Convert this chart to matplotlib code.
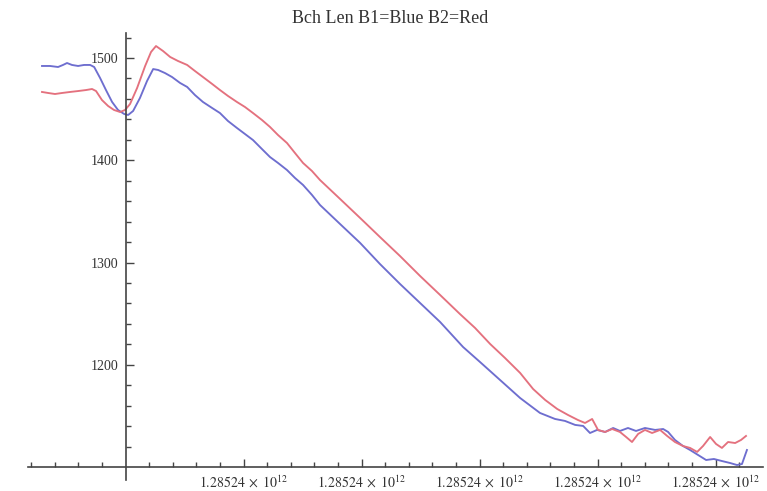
import matplotlib
matplotlib.use("Agg")
import matplotlib.pyplot as plt

plt.rcParams["font.family"] = ["Liberation Serif", "DejaVu Serif"]
plt.rcParams["mathtext.fontset"] = "stix"

# time offsets (arbitrary units, origin where the axes cross) and bunch length
blue_t = [-3.54, -3.20, -2.86, -2.65, -2.48, -2.27, -2.01, -1.76, -1.50, -1.33,
          -1.08, -0.83, -0.57, -0.32, -0.06, 0.11, 0.32, 0.61, 0.91, 1.17,
          1.38, 1.67, 1.97, 2.31, 2.61, 2.94, 3.28, 3.67, 4.00, 4.34,
          4.72, 5.06, 5.40, 5.78, 6.12, 6.46, 6.84, 7.18, 7.52, 7.90,
          8.24, 9.09, 9.94, 10.78, 11.63, 12.48, 13.33, 14.30, 15.02, 15.87,
          16.72, 17.56, 18.20, 18.62, 19.05, 19.39, 19.68, 19.98, 20.32, 20.66,
          20.95, 21.29, 21.63, 22.01, 22.44, 22.78, 22.99, 23.28, 23.62, 23.92,
          24.26, 24.60, 24.93, 25.27, 25.61, 25.91, 26.12, 26.33]
blue_v = [1492.2, 1492.2, 1491.2, 1493.2, 1495.1, 1493.2, 1492.2, 1493.2, 1493.2, 1491.2,
          1480.5, 1468.7, 1457.0, 1449.2, 1445.3, 1444.3, 1448.2, 1460.9, 1477.5, 1489.2,
          1488.3, 1485.3, 1481.4, 1475.6, 1471.7, 1463.8, 1457.0, 1451.1, 1446.2, 1438.4,
          1431.6, 1425.7, 1419.8, 1411.0, 1403.2, 1397.4, 1390.5, 1382.7, 1375.9, 1366.1,
          1356.3, 1337.7, 1319.2, 1298.6, 1279.1, 1260.5, 1241.9, 1217.5, 1202.8, 1185.2,
          1167.6, 1153.0, 1147.1, 1145.2, 1141.3, 1140.3, 1133.4, 1136.4, 1134.4, 1138.3,
          1135.4, 1138.3, 1135.4, 1138.3, 1136.4, 1137.3, 1134.4, 1126.6, 1120.7, 1116.8,
          1111.9, 1107.0, 1108.0, 1106.0, 1104.1, 1102.1, 1103.1, 1116.8]

red_t = [-3.54, -3.28, -2.99, -2.69, -2.35, -2.01, -1.67, -1.42, -1.25, -1.00,
         -0.74, -0.49, -0.23, -0.02, 0.19, 0.49, 0.83, 1.08, 1.29, 1.59,
         1.89, 2.22, 2.61, 2.94, 3.28, 3.67, 4.00, 4.34, 4.72, 5.06,
         5.40, 5.78, 6.12, 6.46, 6.84, 7.18, 7.52, 7.90, 8.24, 9.09,
         9.94, 10.78, 11.63, 12.48, 13.33, 14.17, 14.81, 15.45, 16.08, 16.72,
         17.27, 17.78, 18.29, 18.75, 19.17, 19.47, 19.77, 20.02, 20.32, 20.62,
         20.95, 21.21, 21.46, 21.72, 22.01, 22.31, 22.65, 22.95, 23.28, 23.62,
         23.92, 24.22, 24.47, 24.77, 25.02, 25.27, 25.53, 25.83, 26.08, 26.29]
red_v = [1466.8, 1465.8, 1464.8, 1465.8, 1466.8, 1467.7, 1468.7, 1469.7, 1467.7, 1458.9,
         1453.1, 1449.2, 1447.2, 1449.2, 1455.0, 1470.7, 1492.2, 1505.9, 1511.7, 1506.8,
         1501.0, 1497.1, 1493.2, 1487.3, 1481.4, 1474.6, 1468.7, 1462.9, 1457.0, 1452.1,
         1446.2, 1439.4, 1432.6, 1424.7, 1416.9, 1407.1, 1397.4, 1389.5, 1380.7, 1362.2,
         1343.6, 1325.0, 1306.4, 1286.9, 1268.3, 1249.7, 1236.1, 1220.4, 1206.7, 1192.1,
         1176.4, 1165.7, 1156.9, 1151.0, 1146.1, 1143.2, 1147.1, 1136.4, 1134.4, 1137.3,
         1134.4, 1129.5, 1124.6, 1132.5, 1136.4, 1133.4, 1136.4, 1130.5, 1124.6, 1120.7,
         1118.8, 1114.9, 1120.7, 1129.5, 1122.7, 1118.8, 1124.6, 1123.6, 1126.6, 1130.5]

x_major = [5, 10, 15, 20, 25]
x_labels = [r"$1.28524\;\times\;10^{12}$"] * len(x_major)
y_major = [1200, 1300, 1400, 1500]
title = "Bch Len B1=Blue B2=Red"

fig = plt.figure(figsize=(7.67, 4.91), dpi=100)
ax = fig.add_axes([0, 0, 1, 1])
ax.set_xlim(-5.32, 27.18)
ax.set_ylim(1076.7, 1556.7)

ax.plot(blue_t, blue_v, color="#6e6ecf", lw=1.35, solid_joinstyle="round")
ax.plot(red_t, red_v, color="#e4717e", lw=1.35, solid_joinstyle="round")

# Mathematica-style axes crossing inside the plot
for side in ["top", "right"]:
    ax.spines[side].set_visible(False)
ax.spines["left"].set_position(("data", 0))
ax.spines["bottom"].set_position(("data", 1100))
ax.spines["left"].set_bounds(1087, 1524)
ax.spines["bottom"].set_bounds(-4.13, 27.0)
for side in ["left", "bottom"]:
    ax.spines[side].set_color("#444444")
    ax.spines[side].set_linewidth(1.2)

ax.set_xticks(x_major)
ax.set_xticklabels(x_labels)
ax.set_xticks([t for t in range(-4, 27) if t != 0 and t % 5 != 0], minor=True)
ax.set_yticks(y_major)
ax.set_yticks([v for v in range(1120, 1540, 20) if v % 100 != 0], minor=True)

ax.tick_params(which="both", direction="in", color="#444444", width=1.0,
               labelsize=10, labelcolor="#333333")
ax.tick_params(which="major", length=6, pad=5)
ax.tick_params(which="minor", length=3.5)

fig.text(0.508, 0.963, title, ha="center", va="center", fontsize=13, color="#333333")

fig.savefig("out.png", dpi=100)
